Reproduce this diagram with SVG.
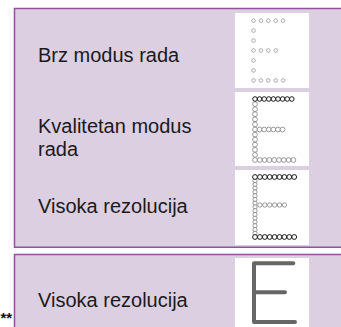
<svg xmlns="http://www.w3.org/2000/svg" width="341" height="327" viewBox="0 0 341 327">
<style>
.box{fill:#dccfe2;stroke:#94519b;stroke-width:1.5}
.panel{fill:#ffffff}
.lbl{font-family:"Liberation Sans",Arial,Helvetica,sans-serif;font-size:20px;fill:#1a1a1a}
.d1{fill:#fff;stroke:#8a8a8a;stroke-width:0.7}
.dg{fill:#fff;stroke:#7a7a7a;stroke-width:0.75}
.dk{fill:#fff;stroke:#1a1a1a;stroke-width:1}
.bigE{fill:none;stroke:#666;stroke-width:4;stroke-linecap:round;stroke-linejoin:round}
.note{font-family:"Liberation Sans",Arial,sans-serif;font-size:15px;font-weight:bold;fill:#111}
</style>
<g id="group-top">
<rect class="box" x="14.5" y="8.5" width="340" height="238.75"/>
</g>
<g id="group-bottom">
<rect class="box" x="14.5" y="254.5" width="340" height="90"/>
</g>

<g id="node-brz">
<text class="lbl" x="38" y="62">Brz modus rada</text>
<rect class="panel" x="235" y="13" width="74" height="75"/>
<g class="d1">
<circle cx="253.5" cy="20.7" r="1.8"/><circle cx="260.9" cy="20.7" r="1.8"/><circle cx="268.3" cy="20.7" r="1.8"/><circle cx="275.7" cy="20.7" r="1.8"/><circle cx="283.1" cy="20.7" r="1.8"/>
<circle cx="253.5" cy="30.6" r="1.8"/>
<circle cx="253.5" cy="40.6" r="1.8"/>
<circle cx="253.5" cy="50.5" r="1.8"/><circle cx="260.9" cy="50.5" r="1.8"/><circle cx="268.3" cy="50.5" r="1.8"/><circle cx="275.7" cy="50.5" r="1.8"/>
<circle cx="253.5" cy="60.5" r="1.8"/>
<circle cx="253.5" cy="70.4" r="1.8"/>
<circle cx="253.5" cy="80.4" r="1.8"/><circle cx="260.9" cy="80.4" r="1.8"/><circle cx="268.3" cy="80.4" r="1.8"/><circle cx="275.7" cy="80.4" r="1.8"/><circle cx="283.1" cy="80.4" r="1.8"/>
</g>
</g>

<g id="node-kvalitetan">
<text class="lbl" x="38" y="133">Kvalitetan modus</text>
<text class="lbl" x="38" y="156">rada</text>
<rect class="panel" x="235" y="92" width="74" height="74"/>
<g class="dg">
<circle cx="255" cy="104.1" r="2.4"/><circle cx="255" cy="109.2" r="2.4"/><circle cx="255" cy="114.2" r="2.4"/><circle cx="255" cy="119.3" r="2.4"/><circle cx="255" cy="124.4" r="2.4"/><circle cx="255" cy="129.5" r="2.4"/><circle cx="255" cy="134.6" r="2.4"/><circle cx="255" cy="139.6" r="2.4"/><circle cx="255" cy="144.7" r="2.4"/><circle cx="255" cy="149.8" r="2.4"/><circle cx="255" cy="154.9" r="2.4"/><circle cx="255" cy="160" r="2.4"/>
<circle cx="259.6" cy="129.5" r="2.4"/><circle cx="264.2" cy="129.5" r="2.4"/><circle cx="268.8" cy="129.5" r="2.4"/><circle cx="273.4" cy="129.5" r="2.4"/><circle cx="278" cy="129.5" r="2.4"/><circle cx="282.6" cy="129.5" r="2.4"/>
<circle cx="259.8" cy="160" r="2.4"/><circle cx="264.6" cy="160" r="2.4"/><circle cx="269.4" cy="160" r="2.4"/><circle cx="274.2" cy="160" r="2.4"/><circle cx="279" cy="160" r="2.4"/><circle cx="283.8" cy="160" r="2.4"/><circle cx="288.6" cy="160" r="2.4"/><circle cx="293.4" cy="160" r="2.4"/>
</g>
<g class="dk">
<circle cx="255" cy="99" r="2.3"/><circle cx="259.6" cy="99" r="2.3"/><circle cx="264.2" cy="99" r="2.3"/><circle cx="268.8" cy="99" r="2.3"/><circle cx="273.4" cy="99" r="2.3"/><circle cx="278" cy="99" r="2.3"/><circle cx="282.6" cy="99" r="2.3"/><circle cx="287.2" cy="99" r="2.3"/><circle cx="291.8" cy="99" r="2.3"/>
</g>
</g>

<g id="node-visoka1">
<text class="lbl" x="38" y="213">Visoka rezolucija</text>
<rect class="panel" x="235" y="170" width="74" height="75"/>
<g class="dg">
<circle cx="255" cy="180.75" r="2.1"/><circle cx="255" cy="184.5" r="2.1"/><circle cx="255" cy="188.25" r="2.1"/><circle cx="255" cy="192" r="2.1"/><circle cx="255" cy="195.75" r="2.1"/><circle cx="255" cy="199.5" r="2.1"/><circle cx="255" cy="203.25" r="2.1"/><circle cx="255" cy="207" r="2.1"/><circle cx="255" cy="210.75" r="2.1"/><circle cx="255" cy="214.5" r="2.1"/><circle cx="255" cy="218.25" r="2.1"/><circle cx="255" cy="222" r="2.1"/><circle cx="255" cy="225.75" r="2.1"/><circle cx="255" cy="229.5" r="2.1"/><circle cx="255" cy="233.25" r="2.1"/>
<circle cx="259.9" cy="205" r="2.2"/><circle cx="264.8" cy="205" r="2.2"/><circle cx="269.7" cy="205" r="2.2"/><circle cx="274.6" cy="205" r="2.2"/><circle cx="279.5" cy="205" r="2.2"/><circle cx="284.4" cy="205" r="2.2"/>
</g>
<g class="dk">
<circle cx="255" cy="177" r="2.4"/><circle cx="259.9" cy="177" r="2.4"/><circle cx="264.8" cy="177" r="2.4"/><circle cx="269.7" cy="177" r="2.4"/><circle cx="274.6" cy="177" r="2.4"/><circle cx="279.5" cy="177" r="2.4"/><circle cx="284.4" cy="177" r="2.4"/><circle cx="289.3" cy="177" r="2.4"/><circle cx="294.2" cy="177" r="2.4"/>
<circle cx="255" cy="237" r="2.4"/><circle cx="259.9" cy="237" r="2.4"/><circle cx="264.8" cy="237" r="2.4"/><circle cx="269.7" cy="237" r="2.4"/><circle cx="274.6" cy="237" r="2.4"/><circle cx="279.5" cy="237" r="2.4"/><circle cx="284.4" cy="237" r="2.4"/><circle cx="289.3" cy="237" r="2.4"/><circle cx="294.2" cy="237" r="2.4"/>
</g>
</g>

<g id="node-visoka2">
<text class="lbl" x="38" y="307">Visoka rezolucija</text>
<rect class="panel" x="235" y="258" width="74" height="72"/>
<path class="bigE" d="M293.3 263.3 H254 V322 H295 M254 292.3 H285"/>
</g>

<g id="connectors"></g>

<text class="note" x="0.5" y="323">**</text>
</svg>
